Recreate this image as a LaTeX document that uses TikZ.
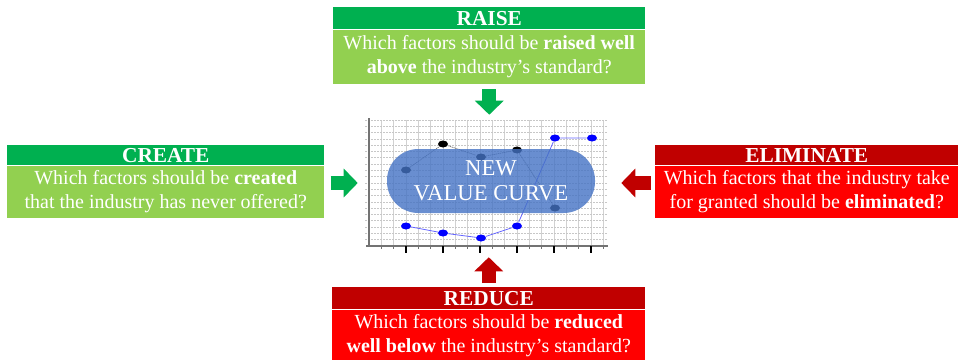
\documentclass[tikz,border=0pt]{standalone}
\usepackage{fontspec}
\setmainfont{Liberation Serif}
\usepackage{xcolor}
\usetikzlibrary{positioning, arrows.meta, shapes.geometric}

\definecolor{darkgreen}{HTML}{00B050}
\definecolor{lightgreen}{HTML}{92D050}
\definecolor{darkred}{HTML}{C00000}
\definecolor{brightred}{HTML}{FF0000}
\definecolor{pillblue}{HTML}{4472C4}
\definecolor{seriesblue}{HTML}{0000FF}

\tikzset{
  head/.style={minimum height=16.5pt, inner sep=0pt, text=white, font=\bfseries\fontsize{16}{18}\selectfont},
  body/.style={minimum height=40.5pt, inner sep=0pt, text=white, align=center, font=\fontsize{15}{18}\selectfont},
  blockarrow/.style={line width=10.5pt, -{Triangle[width=21pt,length=10.5pt]}},
  dot/.style={ellipse, inner sep=0pt, minimum width=7.5pt, minimum height=5.25pt},
}

\begin{document}
\begin{tikzpicture}[x=0.75pt, y=-0.75pt]
  \useasboundingbox (0,0) rectangle (959,360);

  % the four boxes
  \node[head, fill=darkgreen, minimum width=234pt, anchor=north west] (raise) at (333,7) {RAISE};
  \node[body, fill=lightgreen, minimum width=234pt, below=0pt of raise] (raisetext) {Which factors should be \textbf{raised well}\\\textbf{above} the industry’s standard?};

  \node[head, fill=darkgreen, minimum width=237.75pt, minimum height=15pt, anchor=north west] (create) at (7,145) {CREATE};
  \node[body, fill=lightgreen, minimum width=237.75pt, minimum height=39pt, below=0pt of create] (createtext) {Which factors should be \textbf{created}\\that the industry has never offered?};

  \node[head, fill=darkred, minimum width=227.25pt, minimum height=15pt, anchor=north west] (elim) at (655,145) {ELIMINATE};
  \node[body, fill=brightred, minimum width=227.25pt, minimum height=39pt, below=0pt of elim] (elimtext) {Which factors that the industry take\\for granted should be \textbf{eliminated}?};

  \node[head, fill=darkred, minimum width=234.75pt, anchor=north west] (reduce) at (332,287) {REDUCE};
  \node[body, fill=brightred, minimum width=234.75pt, minimum height=38.25pt, below=0pt of reduce] (reducetext) {Which factors should be \textbf{reduced}\\\textbf{well below} the industry’s standard?};

  % chart
  \node[minimum width=177pt, minimum height=94.5pt, inner sep=0pt] (chart) at (487,183) {};
  \foreach \k in {1,...,19}
    \draw[black!18, line width=0.6pt] (369+\k*37/3,120) -- (369+\k*37/3,246);
  \foreach \k in {0,...,19}
    \draw[black!22, line width=0.5pt, dash pattern=on 1.5pt off 0.75pt] (365,120+\k*6.3) -- (608,120+\k*6.3);
  \draw[black!55, line width=0.9pt] (369,118) -- (369,246);
  \draw[black!55, line width=0.9pt] (366,246) -- (608,246);
  \foreach \k in {1,...,19}
    \draw[black!55, line width=0.6pt] (369+\k*37/3,246) -- (369+\k*37/3,249);
  \foreach \k in {0,...,5}
    \draw[black, line width=1.3pt] (406+\k*37,246) -- (406+\k*37,253);

  \node[dot, fill=black] (g1) at (406,170) {};
  \node[dot, fill=black] (g2) at (443,144) {};
  \node[dot, fill=black] (g3) at (481,157) {};
  \node[dot, fill=black] (g4) at (517,150) {};
  \node[dot, fill=black] (g5) at (555,208) {};
  \draw[black!55, line width=0.5pt, dash pattern=on 1pt off 0.5pt] (g1) -- (g2) -- (g3) -- (g4) -- (g5);

  \node[dot, fill=seriesblue] (b1) at (406,226) {};
  \node[dot, fill=seriesblue] (b2) at (443,233) {};
  \node[dot, fill=seriesblue] (b3) at (481,238) {};
  \node[dot, fill=seriesblue] (b4) at (517,226) {};
  \node[dot, fill=seriesblue] (b5) at (555,138) {};
  \node[dot, fill=seriesblue] (b6) at (592,138) {};
  \draw[seriesblue!60, line width=0.6pt] (b1) -- (b2) -- (b3) -- (b4) -- (b5) -- (b6);

  \node[fill=pillblue, fill opacity=0.8, text opacity=1, text=white, rounded corners=23.5pt, minimum width=156pt, minimum height=48pt, inner sep=0pt, align=center, font=\fontsize{17}{19}\selectfont] (newcurve) at (491,181) {NEW\\VALUE CURVE};

  % arrows into the chart
  \draw[blockarrow, darkgreen, shorten <=3.75pt, shorten >=3.75pt] (raisetext.south) -- (raisetext.south |- chart.north);
  \draw[blockarrow, darkgreen, shorten <=4.5pt, shorten >=8.25pt] (chart.west -| createtext.east) -- (chart.west);
  \draw[blockarrow, darkred, shorten <=3pt, shorten >=12pt] (chart.east -| elimtext.west) -- (chart.east);
  \draw[blockarrow, darkred, shorten <=3pt, shorten >=8.25pt] (reduce.north) -- (reduce.north |- chart.south);
\end{tikzpicture}
\end{document}
